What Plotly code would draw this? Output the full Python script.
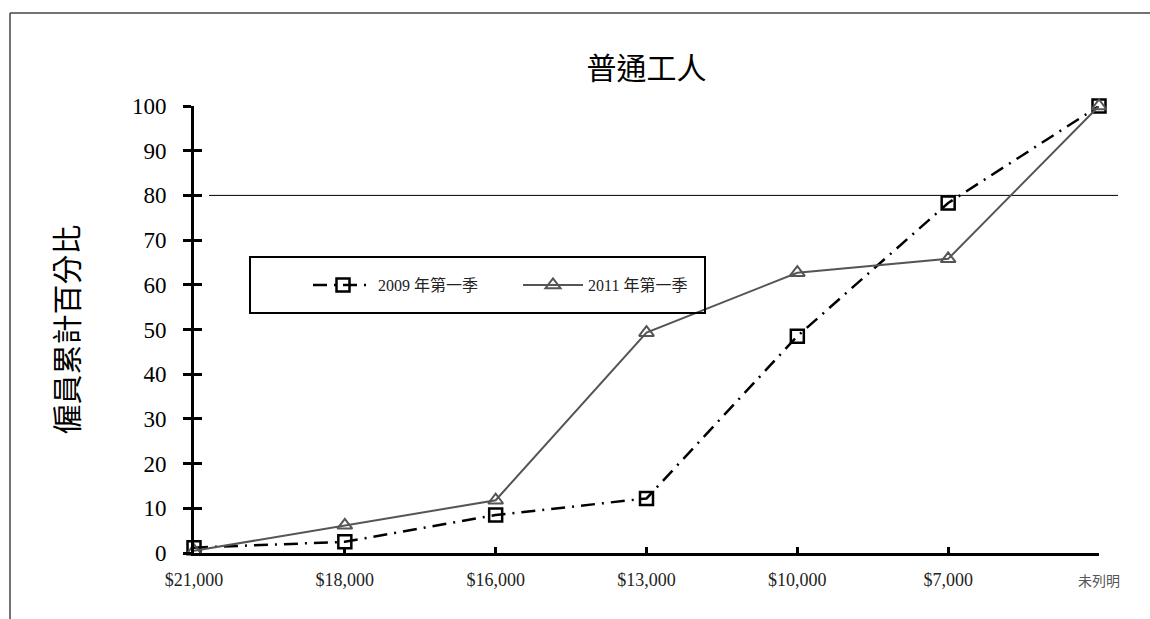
import plotly.graph_objects as go

# Wage thresholds (cumulative from the top band down) and the unspecified group
categories = ["$21,000", "$18,000", "$16,000", "$13,000", "$10,000", "$7,000", "未列明"]
series_2009_name = "2009 年第一季"
series_2011_name = "2011 年第一季"
values_2009 = [1.2, 2.5, 8.5, 12.2, 48.5, 78.3, 100]
values_2011 = [0.5, 6.2, 11.8, 49.3, 62.7, 65.8, 100]
y_ticks = [0, 10, 20, 30, 40, 50, 60, 70, 80, 90, 100]
reference_level = 80

SERIF = "Liberation Serif, Noto Sans CJK TC, serif"
W, H = 1150, 619
L, R, T, B = 194, 51, 106, 66
pw, ph = W - L - R, H - T - B


def px_x(px):
    return (px - L) / pw


def px_y(py):
    return (H - B - py) / ph


xs = list(range(len(categories)))
ticktext = categories[:-1] + [
    '<span style="font-size:14px;color:#555555">' + categories[-1] + "</span>"
]

fig = go.Figure()
fig.add_trace(go.Scatter(
    x=xs, y=values_2009, name=series_2009_name, mode="lines+markers",
    line=dict(color="#000000", width=2.5, dash="14px,7px,2px,7px"),
    marker=dict(symbol="square-open", size=13, color="#000000",
                line=dict(width=2.5, color="#000000")),
    cliponaxis=False,
))
fig.add_trace(go.Scatter(
    x=xs, y=values_2011, name=series_2011_name, mode="lines+markers",
    line=dict(color="#555555", width=2),
    marker=dict(symbol="triangle-up-open", size=13, color="#555555",
                line=dict(width=2, color="#555555")),
    cliponaxis=False,
))
# empty trace so the overlay axis (inner half of the cross ticks) is drawn
fig.add_trace(go.Scatter(x=[None], y=[None], yaxis="y2", showlegend=False,
                         hoverinfo="skip"))

shapes = [
    # reference line at 80%
    dict(type="line", xref="paper", yref="y", x0=px_x(209), x1=px_x(1118),
         y0=reference_level, y1=reference_level,
         line=dict(color="#000000", width=1), layer="below"),
    # legend frame
    dict(type="rect", xref="paper", yref="paper",
         x0=px_x(250), x1=px_x(705), y0=px_y(313), y1=px_y(257),
         line=dict(color="#000000", width=2), fillcolor="rgba(0,0,0,0)"),
    # chart frame (top and left edges)
    dict(type="line", xref="paper", yref="paper",
         x0=px_x(10), x1=px_x(1150), y0=px_y(13), y1=px_y(13),
         line=dict(color="#444444", width=1.5)),
    dict(type="line", xref="paper", yref="paper",
         x0=px_x(10), x1=px_x(10), y0=px_y(13), y1=px_y(619),
         line=dict(color="#444444", width=1.5)),
]

fig.update_layout(
    width=W, height=H,
    margin=dict(l=L, r=R, t=T, b=B, autoexpand=False),
    paper_bgcolor="#ffffff", plot_bgcolor="#ffffff",
    font=dict(family=SERIF, color="#000000"),
    title=dict(text="普通工人", x=0.5, xref="paper", xanchor="center",
               y=1 - 68 / H, yref="container", yanchor="middle",
               font=dict(family=SERIF, size=30, color="#000000")),
    showlegend=True,
    legend=dict(orientation="h", x=px_x(308), y=px_y(285),
                xanchor="left", yanchor="middle",
                bgcolor="rgba(0,0,0,0)", borderwidth=0,
                entrywidth=135, itemwidth=60,
                font=dict(family=SERIF, size=16, color="#222222")),
    xaxis=dict(
        range=[0, len(categories) - 1], tickmode="array", tickvals=xs,
        ticktext=ticktext, ticks="inside", ticklen=6, tickwidth=2.5,
        tickcolor="#000000", showline=True, linewidth=3, linecolor="#000000",
        showgrid=False, zeroline=False, ticklabelstandoff=8,
        tickfont=dict(family=SERIF, size=18, color="#222222"),
    ),
    yaxis=dict(
        range=[0, 100], tickmode="array", tickvals=y_ticks,
        ticks="outside", ticklen=8, tickwidth=3, tickcolor="#000000",
        showline=True, linewidth=3, linecolor="#000000",
        showgrid=False, zeroline=False, ticklabelstandoff=12,
        tickfont=dict(family=SERIF, size=23, color="#000000"),
        title=dict(text="僱員累計百分比", standoff=45,
                   font=dict(family=SERIF, size=30, color="#000000")),
    ),
    yaxis2=dict(
        range=[0, 100], overlaying="y", side="left", anchor="x",
        tickmode="array", tickvals=y_ticks, ticks="inside", ticklen=8,
        tickwidth=3, tickcolor="#000000", showticklabels=False,
        showline=False, showgrid=False, zeroline=False,
    ),
    shapes=shapes,
)

fig.write_html("out.html")
